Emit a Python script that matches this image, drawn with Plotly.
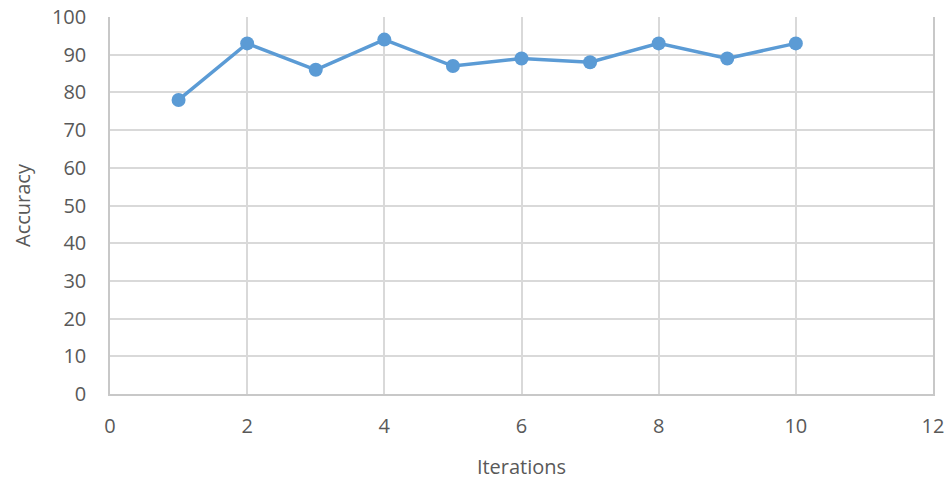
import plotly.graph_objects as go

iterations = [1, 2, 3, 4, 5, 6, 7, 8, 9, 10]
accuracy = [78, 93, 86, 94, 87, 89, 88, 93, 89, 93]

font = dict(family="Open Sans, Liberation Sans, sans-serif", size=20, color="#595959")

fig = go.Figure()
fig.add_trace(go.Scatter(
    x=iterations, y=accuracy, mode="lines+markers",
    line=dict(color="#5B9BD5", width=3.5),
    marker=dict(color="#5B9BD5", size=14),
    showlegend=False,
))

fig.update_layout(
    width=950, height=480,
    margin=dict(l=110, r=17, t=17, b=86),
    paper_bgcolor="white", plot_bgcolor="white",
    font=font,
)
fig.update_xaxes(
    range=[0, 12], tick0=0, dtick=2, showgrid=True, gridcolor="#d9d9d9", gridwidth=1.5,
    zeroline=False, showline=True, linecolor="#c8c8c8", linewidth=1.5,
    ticks="", ticklabelstandoff=13, automargin=False,
    title=dict(text="Iterations", font=font, standoff=22),
)
fig.update_yaxes(
    range=[0, 100], tick0=0, dtick=10, showgrid=True, gridcolor="#d9d9d9", gridwidth=1.5,
    zeroline=False, showline=True, linecolor="#c8c8c8", linewidth=1.5, mirror=True,
    ticks="", ticklabelstandoff=18, automargin=False,
    title=dict(text="Accuracy", font=font, standoff=16),
)
fig.write_html(
    "out.html",
    config={"displayModeBar": False},
    post_script="document.body.style.margin='0';document.body.style.overflow='hidden';",
)
